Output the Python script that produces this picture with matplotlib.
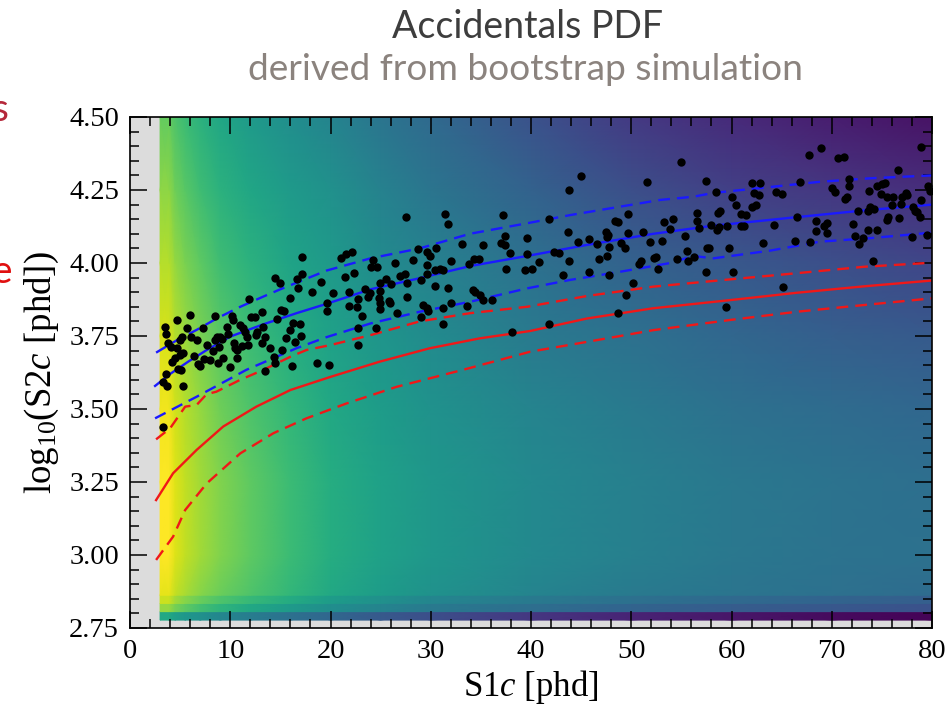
import numpy as np
import matplotlib.pyplot as plt
from matplotlib.ticker import MultipleLocator, FormatStrFormatter

plt.rcParams.update({
    "font.family": "serif",
    "font.serif": ["Liberation Serif", "DejaVu Serif"],
    "mathtext.fontset": "custom",
    "mathtext.rm": "Liberation Serif",
    "mathtext.it": "Liberation Serif:italic",
})

# ---- accidentals PDF (colormap fraction) ----
heat_x = [3.0, 3.9, 4.5, 5.5, 7, 9, 12, 16, 20, 25, 30, 40, 50, 60, 70, 80]
heat_y = [2.862, 3.0, 3.25, 3.5, 3.75, 4.0, 4.25, 4.5]
heat_z = [
    [0.96, 0.96, 0.91, 0.87, 0.82, 0.77, 0.72, 0.66, 0.60, 0.55, 0.51, 0.45, 0.41, 0.39, 0.37, 0.35],
    [1.00, 1.00, 0.95, 0.91, 0.86, 0.81, 0.75, 0.68, 0.62, 0.57, 0.53, 0.47, 0.43, 0.40, 0.38, 0.37],
    [1.00, 1.00, 0.95, 0.91, 0.86, 0.81, 0.75, 0.68, 0.62, 0.57, 0.53, 0.47, 0.43, 0.40, 0.38, 0.36],
    [0.98, 0.98, 0.93, 0.89, 0.84, 0.78, 0.72, 0.66, 0.60, 0.55, 0.51, 0.45, 0.41, 0.37, 0.35, 0.33],
    [0.94, 0.94, 0.89, 0.85, 0.80, 0.74, 0.68, 0.62, 0.57, 0.52, 0.48, 0.41, 0.37, 0.33, 0.30, 0.28],
    [0.89, 0.89, 0.84, 0.80, 0.75, 0.69, 0.64, 0.58, 0.54, 0.48, 0.44, 0.37, 0.31, 0.27, 0.24, 0.21],
    [0.83, 0.83, 0.78, 0.74, 0.69, 0.64, 0.59, 0.54, 0.50, 0.44, 0.39, 0.31, 0.24, 0.19, 0.16, 0.13],
    [0.76, 0.76, 0.72, 0.68, 0.64, 0.59, 0.54, 0.49, 0.45, 0.39, 0.34, 0.25, 0.17, 0.12, 0.08, 0.05],
]
# the three lowest S2 rows are flat bands
band_edges = [2.777, 2.806, 2.834, 2.862]
band_z = [
    [0.60, 0.60, 0.56, 0.53, 0.50, 0.46, 0.42, 0.37, 0.33, 0.28, 0.24, 0.16, 0.10, 0.06, 0.03, 0.01],
    [0.84, 0.84, 0.79, 0.75, 0.70, 0.65, 0.60, 0.54, 0.49, 0.45, 0.41, 0.36, 0.32, 0.29, 0.27, 0.25],
    [0.92, 0.92, 0.86, 0.82, 0.77, 0.72, 0.67, 0.61, 0.55, 0.50, 0.46, 0.41, 0.37, 0.34, 0.32, 0.30],
]

# ---- band curves ----
blue_mid_x = [2.5, 4.0, 5.8, 7.65, 10.0, 13.3, 16.6, 19.6, 24, 28.9, 34, 39.6, 45.6, 52.2, 58, 66.5, 73.2, 80]
blue_mid_y = [3.579, 3.62, 3.662, 3.702, 3.748, 3.79, 3.828, 3.86, 3.91, 3.948, 3.99, 4.024, 4.062, 4.10, 4.127, 4.157, 4.18, 4.20]
blue_hi_x = [2.6, 4.7, 6.65, 8.65, 11.0, 13.3, 15.0, 17.3, 19.6, 24, 28.9, 33.9, 39.6, 43.9, 48.9, 52.9, 56.2, 58.2, 63.8, 68.8, 73.8, 80]
blue_hi_y = [3.693, 3.736, 3.771, 3.81, 3.85, 3.885, 3.91, 3.942, 3.974, 4.016, 4.05, 4.10, 4.136, 4.164, 4.193, 4.216, 4.227, 4.24, 4.26, 4.278, 4.29, 4.30]
blue_lo_x = [2.5, 6.65, 11.6, 16.6, 19.6, 24, 28.9, 33.9, 39.6, 43.9, 48.9, 53.9, 56.2, 58.2, 63.8, 68.8, 73.8, 80]
blue_lo_y = [3.468, 3.542, 3.634, 3.708, 3.746, 3.793, 3.833, 3.867, 3.913, 3.942, 3.97, 4.0, 4.024, 4.016, 4.042, 4.073, 4.085, 4.104]

red_mid_x = [2.6, 4.3, 6.65, 9.3, 12.6, 16, 20, 24.9, 29.9, 34.9, 39.9, 45.6, 52.2, 59.9, 66.5, 73.2, 80]
red_mid_y = [3.188, 3.28, 3.36, 3.44, 3.508, 3.565, 3.61, 3.662, 3.708, 3.742, 3.767, 3.81, 3.845, 3.873, 3.898, 3.92, 3.94]
red_hi_x = [2.6, 4.0, 5.5, 6.65, 7.65, 8.6, 11, 13.3, 16, 17.6, 20, 24, 28.9, 33.9, 39.6, 45.6, 52.2, 59.9, 66.5, 73.2, 80]
red_hi_y = [3.396, 3.434, 3.508, 3.514, 3.551, 3.559, 3.60, 3.634, 3.679, 3.702, 3.719, 3.753, 3.80, 3.828, 3.85, 3.887, 3.919, 3.944, 3.965, 3.987, 4.001]
red_lo_x = [2.6, 4.3, 5.5, 7.65, 11, 14.3, 17.6, 21.6, 26.6, 33.2, 39.9, 45.6, 52.2, 59.9, 66.5, 73.2, 80]
red_lo_y = [2.983, 3.063, 3.154, 3.245, 3.348, 3.417, 3.468, 3.519, 3.576, 3.634, 3.696, 3.73, 3.77, 3.805, 3.833, 3.856, 3.879]

# ---- events ----
s1c = [
    3.49, 3.59, 3.82, 4.06, 4.16, 4.49, 4.66, 4.72, 4.99, 5.15, 4.99, 5.25, 4.82, 5.05, 3.59, 3.26, 3.72, 5.32,
    5.65, 5.99, 6.05, 6.38, 6.65, 6.82, 6.98, 7.32, 7.38, 7.71, 7.98, 8.25, 8.48, 8.48, 8.71, 8.81, 8.91, 8.98,
    9.14, 9.31, 9.64, 9.81, 9.98, 10.14, 10.31, 10.37, 10.47, 10.64, 10.71, 10.97, 11.14, 11.31, 11.47, 11.64,
    11.8, 11.87, 12.04, 12.47, 12.57, 12.7, 13.13, 13.13, 13.3, 13.47, 13.47, 13.97, 14.36, 14.46, 14.63, 14.5,
    14.96, 15.03, 15.36, 15.13, 15.56, 15.96, 15.96, 16.13, 16.23, 16.46, 16.63, 16.79, 16.96, 17.02, 17.12,
    17.12, 18.12, 18.69, 19.02, 19.62, 19.68, 19.88, 3.33,
    20.21, 21.44, 21.01, 21.54, 22.18, 22.37, 21.84, 21.84, 22.61, 22.77, 22.74, 22.74, 23.17, 23.47, 23.7,
    23.94, 24.0, 24.27, 24.67, 24.94, 24.94, 24.87, 24.94, 24.94, 25.53, 25.83, 25.93, 26.0, 24.54, 26.46,
    26.66, 26.93, 27.46, 27.5, 27.6, 27.66, 28.26, 28.69, 29.03, 29.03, 29.19, 29.59, 29.66, 29.66, 29.66,
    29.76, 29.92, 30.42, 30.55, 30.42, 30.92, 31.25, 31.25, 31.25, 31.42, 31.68, 31.68, 32.02, 32.05, 33.08,
    33.58, 33.81, 34.25, 34.31, 34.41, 34.78, 34.91, 35.18, 35.18, 36.07, 36.97, 37.2, 37.4, 37.4, 37.54,
    37.9, 38.1, 39.37, 39.57, 39.57,
    40.13, 40.83, 41.83, 42.29, 42.82, 43.16, 43.65, 43.79, 43.79, 44.72, 44.95, 45.75, 45.82, 46.55, 46.81,
    47.48, 47.55, 47.61, 47.71, 47.81, 47.81, 48.38, 48.71, 48.97, 49.41, 49.47, 49.71, 49.71, 50.2, 48.64,
    41.83, 50.8, 50.94, 51.14, 51.57, 51.87, 52.3, 52.43, 52.63, 53.03, 53.26, 53.86, 54.2, 54.53, 54.93,
    55.36, 55.53, 55.69, 56.26, 56.52, 56.59, 56.79, 57.45, 57.42, 57.52, 57.79, 57.95, 58.45, 58.58, 58.68,
    58.78, 58.85,
    59.58, 59.78, 59.45, 60.01, 60.11, 60.45, 60.91, 60.91, 61.24, 61.44, 62.04, 62.07, 62.27, 62.44, 62.77,
    62.84, 63.17, 64.27, 64.44, 65.0, 65.17, 66.33, 66.56, 66.83, 67.76, 67.83, 68.39, 68.43, 68.92, 69.26,
    69.49, 69.49, 70.06, 70.32, 70.65, 71.25, 71.32, 71.55, 71.75, 71.75, 72.15, 72.32, 72.58, 72.75, 73.15,
    73.58, 73.65, 73.71, 73.81, 74.08, 74.24, 74.54, 74.48, 74.88, 74.98, 75.31, 75.54, 75.54, 75.64, 75.97,
    76.07, 76.64, 76.74, 76.9, 76.97, 77.4, 77.54, 77.97, 78.14, 78.3, 78.47, 78.8, 78.87, 78.9, 79.53, 79.63,
    79.8,
]
log_s2c = [
    3.78, 3.757, 3.725, 3.713, 3.662, 3.673, 3.708, 3.805, 3.736, 3.745, 3.685, 3.691, 3.636, 3.634, 3.62, 3.592, 3.579, 3.579,
    3.776, 3.822, 3.748, 3.681, 3.736, 3.654, 3.647, 3.776, 3.67, 3.719, 3.668, 3.70, 3.818, 3.736, 3.745, 3.656, 3.713, 3.748,
    3.739, 3.674, 3.782, 3.757, 3.645, 3.818, 3.805, 3.725, 3.708, 3.702, 3.674, 3.788, 3.716, 3.776, 3.765, 3.748,
    3.719, 3.876, 3.814, 3.816, 3.753, 3.765, 3.833, 3.725, 3.782, 3.748, 3.631, 3.708, 3.679, 3.659, 3.807, 3.947,
    3.933, 3.839, 3.837, 3.702, 3.742, 3.771, 3.881, 3.647, 3.793, 3.731, 3.944, 3.913, 3.791, 3.75, 4.022,
    3.962, 3.902, 3.659, 3.935, 3.862, 3.837, 3.651, 3.437,
    3.898, 3.951, 4.016, 4.031, 4.039, 3.964, 3.902, 3.854, 3.85, 3.875, 3.778, 3.72, 3.819, 3.91, 3.884,
    3.896, 3.987, 4.01, 3.987, 3.93, 3.904, 3.879, 3.862, 3.841, 3.944, 3.871, 3.864, 3.928, 3.778, 3.999,
    3.827, 3.955, 3.961, 4.158, 3.884, 3.93, 4.01, 4.047, 3.942, 3.816, 3.856, 4.036, 3.993, 3.962, 3.847,
    3.835, 4.024, 3.921, 4.05, 3.976, 3.981, 3.976, 3.845, 3.791, 4.168, 4.132, 3.914, 3.862, 4.007, 4.065,
    3.852, 3.996, 3.907, 4.015, 3.902, 4.015, 3.89, 4.06, 3.873, 3.873, 4.069, 4.164, 4.092, 4.061, 3.979,
    4.033, 3.765, 3.976, 4.031, 4.084,
    3.981, 4.003, 4.15, 4.039, 4.033, 3.96, 4.107, 4.25, 4.007, 4.073, 4.298, 3.97, 4.082, 4.065, 4.013,
    4.107, 4.09, 4.024, 4.096, 4.056, 3.96, 4.145, 4.141, 4.067, 4.053, 3.889, 4.101, 4.168, 3.932, 3.827,
    3.791, 3.996, 4.008, 4.107, 4.277, 4.073, 4.016, 4.021, 3.979, 4.076, 4.141, 4.118, 4.149, 4.013, 4.347,
    4.092, 4.042, 4.008, 4.021, 4.172, 4.144, 4.121, 4.281, 3.969, 4.053, 4.05, 4.129, 4.244, 4.113, 4.172,
    4.122, 4.179,
    4.128, 4.05, 3.848, 4.227, 3.968, 4.20, 4.168, 4.128, 4.128, 4.164, 4.191, 4.273, 4.241, 4.199, 4.233,
    4.275, 4.067, 4.131, 4.244, 4.236, 3.917, 4.076, 4.159, 4.279, 4.37, 4.073, 4.145, 4.11, 4.395, 4.128,
    4.138, 4.104, 4.256, 4.244, 4.361, 4.364, 4.218, 4.227, 4.287, 4.264, 4.132, 4.092, 4.179, 4.065, 4.087,
    4.113, 4.179, 4.247, 4.191, 4.007, 4.184, 4.113, 4.264, 4.235, 4.271, 4.275, 4.147, 4.227, 4.156, 4.199,
    4.227, 4.318, 4.153, 4.202, 4.227, 4.239, 4.233, 4.088, 4.191, 4.179, 4.176, 4.156, 4.216, 4.398, 4.096, 4.264,
    4.248,
]

fig = plt.figure(figsize=(9.47, 7.12), dpi=100)
ax = fig.add_axes([0.1373, 0.118, 0.8469, 0.7177])
ax.set_facecolor("#dcdcdc")

cmap = "viridis"
for i, row in enumerate(band_z):
    ax.pcolormesh(heat_x, band_edges[i:i + 2], np.vstack([row, row]),
                  shading="gouraud", cmap=cmap, vmin=0, vmax=1, zorder=1)
ax.pcolormesh(heat_x, heat_y, np.array(heat_z), shading="gouraud",
              cmap=cmap, vmin=0, vmax=1, zorder=1)

blue, red = "#1a1aff", "#f01818"
dash = (5, 3)
ax.plot(blue_mid_x, blue_mid_y, color=blue, lw=1.7, zorder=3)
ax.plot(blue_hi_x, blue_hi_y, color=blue, lw=1.7, dashes=dash, zorder=3)
ax.plot(blue_lo_x, blue_lo_y, color=blue, lw=1.7, dashes=dash, zorder=3)
ax.plot(red_mid_x, red_mid_y, color=red, lw=1.7, zorder=3)
ax.plot(red_hi_x, red_hi_y, color=red, lw=1.7, dashes=dash, zorder=3)
ax.plot(red_lo_x, red_lo_y, color=red, lw=1.7, dashes=dash, zorder=3)

ax.plot(s1c, log_s2c, "o", color="black", ms=6, mew=0, zorder=4)

ax.set_xlim(0, 80)
ax.set_ylim(2.75, 4.5)
ax.xaxis.set_major_locator(MultipleLocator(10))
ax.xaxis.set_minor_locator(MultipleLocator(2))
ax.yaxis.set_major_locator(MultipleLocator(0.25))
ax.yaxis.set_minor_locator(MultipleLocator(0.05))
ax.yaxis.set_major_formatter(FormatStrFormatter("%.2f"))
ax.tick_params(which="both", direction="in", top=True, right=True, width=1.1, zorder=5)
ax.tick_params(which="major", length=12, labelsize=20.5, pad=8)
ax.tick_params(which="minor", length=6.5)
for s in ax.spines.values():
    s.set_linewidth(1.2)
    s.set_zorder(6)

ax.set_xlabel("S1$c$ [phd]", fontsize=25, labelpad=3)
ax.set_ylabel("log$_{10}$(S2$c$ [phd])", fontsize=26.5, labelpad=6)

fig.text(0.557, 0.947, "Accidentals PDF", family="Lato", fontsize=27,
         color="#3d3d3d", ha="center", va="baseline")
fig.text(0.555, 0.888, "derived from bootstrap simulation", family="Lato",
         fontsize=26.7, color="#8b837e", ha="center", va="baseline")

# clipped remnants of neighbouring slide text at the left edge
fig.text(0.009, 0.845, "s", family="Lato", fontsize=28, color="#b5283a",
         ha="right", va="center")
fig.text(0.013, 0.618, "e", family="Lato", fontsize=28, color="#e01010",
         ha="right", va="center")

fig.savefig("out.png", dpi=100)
